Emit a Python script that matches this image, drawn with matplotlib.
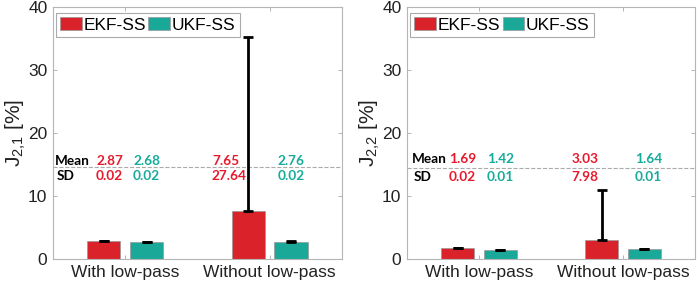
import matplotlib
matplotlib.use('Agg')
import matplotlib.pyplot as plt
import numpy as np

groups = ['With low-pass', 'Without low-pass']
methods = ['EKF-SS', 'UKF-SS']

# J_2,1
mean_21 = {'EKF-SS': [2.87, 7.65], 'UKF-SS': [2.68, 2.76]}
sd_21 = {'EKF-SS': [0.02, 27.64], 'UKF-SS': [0.02, 0.02]}
# J_2,2
mean_22 = {'EKF-SS': [1.69, 3.03], 'UKF-SS': [1.42, 1.64]}
sd_22 = {'EKF-SS': [0.02, 7.98], 'UKF-SS': [0.01, 0.01]}

bar_col = {'EKF-SS': '#d9222a', 'UKF-SS': '#1aa999'}
txt_col = {'EKF-SS': '#e8192c', 'UKF-SS': '#17ab9b'}

plt.rcParams['font.family'] = ['Liberation Sans', 'DejaVu Sans']
plt.rcParams['mathtext.default'] = 'regular'

fig = plt.figure(figsize=(6.99, 2.86), dpi=100)
ax1 = fig.add_axes([0.0758, 0.0944, 0.4134, 0.881])
ax2 = fig.add_axes([0.5823, 0.0944, 0.4120, 0.881])

x = np.arange(1, len(groups) + 1)
offs = {'EKF-SS': -0.148, 'UKF-SS': 0.148}
width = 0.23


def panel(ax, means, sds, label, txt_x, mean_y, sd_y, line_y):
    for m in methods:
        xs = x + offs[m]
        ax.bar(xs, means[m], width, color=bar_col[m], edgecolor='#999999',
               linewidth=0.5, label=m, zorder=2)
        ax.errorbar(xs, means[m], yerr=[np.zeros(len(groups)), sds[m]],
                    fmt='none', ecolor='black', elinewidth=2, capsize=3.8,
                    capthick=2, zorder=3)
    ax.set_xlim(0.5, 2.5)
    ax.set_ylim(0, 40)
    ax.set_xticks(x)
    ax.set_xticklabels(groups)
    ax.set_yticks([0, 10, 20, 30, 40])
    ax.tick_params(direction='in', length=3, width=0.6, color='#aaaaaa',
                   labelsize=12.5, labelcolor='#222222', top=True, right=True, pad=4)
    for s in ax.spines.values():
        s.set_color('#b5b5b5')
        s.set_linewidth(0.8)
    ax.set_ylabel(label, fontsize=15, color='#222222', labelpad=0)
    ax.axhline(line_y, color='#aaaaaa', linestyle='--', linewidth=0.8, zorder=1)
    tf = dict(fontsize=9.8, fontweight='bold', family=['Lato', 'DejaVu Sans'],
              va='center', ha='left')
    ax.text(txt_x[0], mean_y, 'Mean', color='black', **tf)
    ax.text(txt_x[0] + 0.012, sd_y, 'SD', color='black', **tf)
    k = 1
    for gi in range(len(groups)):
        for m in methods:
            ax.text(txt_x[k], mean_y, f'{means[m][gi]:.2f}', color=txt_col[m], **tf)
            ax.text(txt_x[k], sd_y, f'{sds[m][gi]:.2f}', color=txt_col[m], **tf)
            k += 1
    leg = ax.legend(loc='upper left', bbox_to_anchor=(0.009, 0.976), ncol=2,
                    fontsize=12.5, frameon=True, fancybox=False, edgecolor='#aaaaaa',
                    handlelength=1.25, handleheight=0.75, handletextpad=0.1,
                    columnspacing=0.15, borderpad=0.25, borderaxespad=0,
                    framealpha=1)
    leg.get_frame().set_linewidth(0.8)


panel(ax1, mean_21, sd_21, r'$J_{2{,}1}$ [%]',
      [0.514, 0.798, 1.054, 1.600, 2.057], 15.6, 13.1, 14.6)
panel(ax2, mean_22, sd_22, r'$J_{2{,}2}$ [%]',
      [0.533, 0.79, 1.056, 1.64, 2.083], 15.8, 13.0, 14.5)

fig.savefig('out.png', dpi=100)
